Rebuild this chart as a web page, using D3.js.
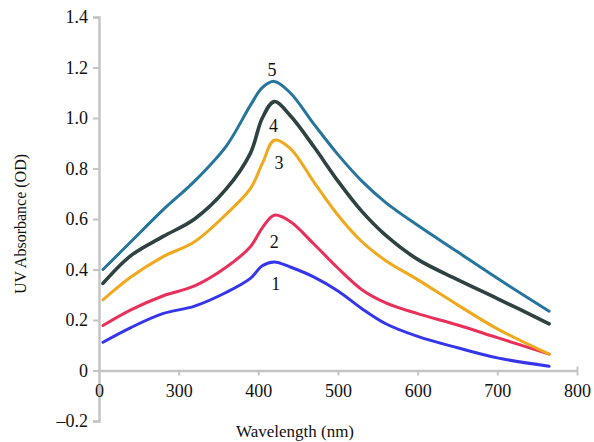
<!DOCTYPE html>
<html>
<head>
<meta charset="utf-8">
<script src="https://cdn.jsdelivr.net/npm/d3@7"></script>
<style>
  body { margin: 0; background: #fff; }
  svg { display: block; }
</style>
</head>
<body>
<div id="chart"></div>
<script>
// wavelength samples (nm)
const wavelengths = [205, 240, 280, 320, 360, 390, 405, 420, 440, 470, 500, 530, 560, 600, 650, 700, 765];
const curve1 = [0.112, 0.17, 0.225, 0.255, 0.31, 0.365, 0.415, 0.43, 0.41, 0.37, 0.315, 0.245, 0.185, 0.135, 0.09, 0.05, 0.017];
const curve2 = [0.178, 0.24, 0.295, 0.335, 0.41, 0.49, 0.565, 0.615, 0.59, 0.5, 0.405, 0.32, 0.268, 0.225, 0.18, 0.13, 0.065];
const curve3 = [0.28, 0.37, 0.45, 0.51, 0.62, 0.72, 0.82, 0.912, 0.88, 0.745, 0.615, 0.51, 0.435, 0.36, 0.26, 0.165, 0.065];
const curve4 = [0.345, 0.455, 0.53, 0.60, 0.72, 0.86, 1.00, 1.065, 1.01, 0.885, 0.75, 0.63, 0.535, 0.44, 0.36, 0.285, 0.185];
const curve5 = [0.40, 0.51, 0.635, 0.75, 0.89, 1.05, 1.12, 1.145, 1.10, 0.975, 0.855, 0.75, 0.665, 0.575, 0.47, 0.365, 0.235];
const seriesNames = ["1", "2", "3", "4", "5"];
const seriesColors = ["#3535ee", "#e8305a", "#f0a81c", "#2e4242", "#25759c"];
// label anchor points [wavelength, absorbance]
const labelPos = [[422, 0.343], [420, 0.507], [426, 0.823], [419, 0.968], [417, 1.192]];
const xTicks = [200, 300, 400, 500, 600, 700, 800];
const yTicks = [-0.2, 0, 0.2, 0.4, 0.6, 0.8, 1.0, 1.2, 1.4];

const W = 594, H = 442;
const margin = {top: 17, right: 17, bottom: 21, left: 99};
const serif = "'Liberation Serif', 'DejaVu Serif', serif";

const svg = d3.select("#chart").append("svg")
  .attr("width", W)
  .attr("height", H);

// axis break: the "0" tick sits where 200 nm would be
const x = d3.scaleLinear().domain([200, 800]).range([margin.left, W - margin.right]);
const y = d3.scaleLinear().domain([-0.2, 1.4]).range([H - margin.bottom, margin.top]);

const axisColor = "#c4c4c4";

// y axis
const yAxis = svg.append("g")
  .attr("transform", "translate(" + margin.left + ",0)")
  .call(d3.axisLeft(y).tickValues(yTicks).tickSize(6).tickPadding(5)
    .tickFormat(d => d === 0 ? "0" : (d < 0 ? "\u2013" + Math.abs(d).toFixed(1) : d.toFixed(1))));
yAxis.select(".domain").attr("stroke", axisColor).attr("stroke-width", 2.5);
yAxis.selectAll(".tick line").attr("stroke", axisColor).attr("stroke-width", 2);
yAxis.selectAll("text").attr("fill", "#111").style("font-family", serif).style("font-size", "18px");

// x axis at absorbance 0
const xAxis = svg.append("g")
  .attr("transform", "translate(0," + y(0) + ")")
  .call(d3.axisBottom(x).tickValues(xTicks).tickSize(5).tickSizeOuter(0).tickPadding(9)
    .tickFormat(d => d === 200 ? "0" : d));
xAxis.select(".domain").attr("stroke", axisColor).attr("stroke-width", 2.5);
xAxis.selectAll(".tick line").attr("stroke", axisColor).attr("stroke-width", 2);
xAxis.selectAll(".tick").filter(d => d === 200).select("line").remove();
xAxis.selectAll(".tick").filter(d => d === 800).select("line").attr("y1", -4);
xAxis.selectAll("text").attr("fill", "#111").style("font-family", serif).style("font-size", "18px");

// curves
const allSeries = [curve1, curve2, curve3, curve4, curve5];
const line = d3.line()
  .x((d, i) => x(wavelengths[i]))
  .y(d => y(d))
  .curve(d3.curveCatmullRom.alpha(0.5));

svg.append("g").selectAll("path")
  .data(allSeries)
  .enter()
  .append("path")
  .attr("d", d => line(d))
  .attr("fill", "none")
  .attr("stroke", (d, i) => seriesColors[i])
  .attr("stroke-width", (d, i) => i === 3 ? 3.6 : 3)
  .attr("stroke-linecap", "round")
  .attr("stroke-linejoin", "round");

// curve numbers
svg.append("g").selectAll("text")
  .data(labelPos)
  .enter()
  .append("text")
  .attr("x", d => x(d[0]))
  .attr("y", d => y(d[1]))
  .attr("text-anchor", "middle")
  .attr("dominant-baseline", "central")
  .style("font-family", serif)
  .style("font-size", "18px")
  .attr("fill", "#111")
  .text((d, i) => seriesNames[i]);

// axis titles
svg.append("text")
  .attr("transform", "translate(20,224) rotate(-90)")
  .attr("text-anchor", "middle")
  .attr("dominant-baseline", "central")
  .style("font-family", serif)
  .style("font-size", "16px")
  .attr("fill", "#111")
  .text("UV Absorbance (OD)");

svg.append("text")
  .attr("x", 295)
  .attr("y", 437)
  .attr("text-anchor", "middle")
  .style("font-family", serif)
  .style("font-size", "17px")
  .attr("fill", "#111")
  .text("Wavelength (nm)");
</script>
</body>
</html>
